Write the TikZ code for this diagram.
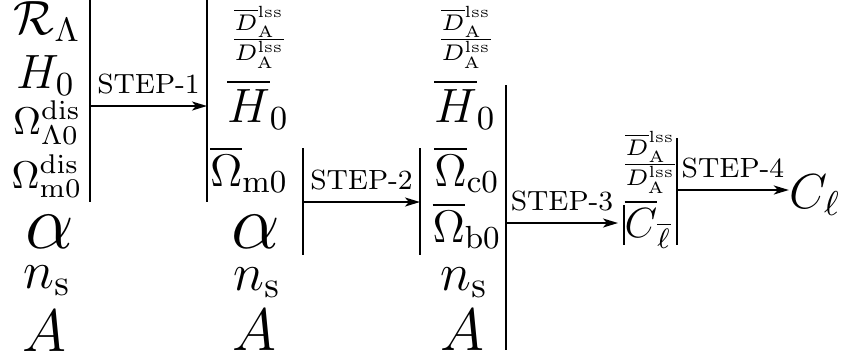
\RequirePackage{fix-cm}
\documentclass[tikz,border=0pt]{standalone}
\usepackage{amsmath}
\usepackage{tikz}
\usetikzlibrary{arrows.meta, positioning}
\newcommand{\fsz}[1]{\fontsize{#1}{#1}\selectfont}
\tikzset{
	param/.style={
		inner sep=0pt,
		anchor=base
	},
	bar/.style={
		line width=0.65pt
	},
	steparrow/.style={
		-{Stealth[length=1.5mm, width=0.9mm, inset=0.4mm]},
		line width=0.6pt
	},
	steplabel/.style={
		above,
		inner sep=3pt,
		font=\fsz{7.9}
	}
}

\begin{document}
\begin{tikzpicture}[x=0.01cm, y=-0.01cm]
		\useasboundingbox (0,0) rectangle (846,360);
		
		%--- Colonne 1 : parametres d'entree ---
		\node[param, font=\fsz{13.7}] (RL) at (47,34) {$\mathcal{R}_\Lambda$};
		\node[param, font=\fsz{13.7}] (H0) at (46,88) {$H_0$};
		\node[param, font=\fsz{11}] (OLdis) at (47,134) {$\Omega^{\mathrm{dis}}_{\Lambda 0}$};
		\node[param, font=\fsz{11}] (Omdis) at (47,188) {$\Omega^{\mathrm{dis}}_{\mathrm{m0}}$};
		\node[param, font=\fsz{22}] (al1) at (50,248) {$\alpha$};
		\node[param, font=\fsz{15}] (ns1) at (47,288) {$n_{\mathrm{s}}$};
		\node[param, font=\fsz{17}] (A1) at (44,351) {$A$};
		
		%--- Colonne 2 ---
		\node[param, anchor=center, font=\fsz{9.2}] (DA2) at (259,37) {$\frac{\overline{D}^{\mathrm{lss}}_{\mathrm{A}}}{D^{\mathrm{lss}}_{\mathrm{A}}}$};
		\node[param, font=\fsz{13.7}] (Hb2) at (258,122) {$\overline{H}_0$};
		\node[param, font=\fsz{13}] (Omb2) at (249,186) {$\overline{\Omega}_{\mathrm{m0}}$};
		\node[param, font=\fsz{22}] (al2) at (256,248) {$\alpha$};
		\node[param, font=\fsz{15}] (ns2) at (257,290) {$n_{\mathrm{s}}$};
		\node[param, font=\fsz{17}] (A2) at (254,350) {$A$};
		
		%--- Colonne 3 ---
		\node[param, anchor=center, font=\fsz{9.2}] (DA3) at (466,37) {$\frac{\overline{D}^{\mathrm{lss}}_{\mathrm{A}}}{D^{\mathrm{lss}}_{\mathrm{A}}}$};
		\node[param, font=\fsz{13.7}] (Hb3) at (465,122) {$\overline{H}_0$};
		\node[param, font=\fsz{13}] (Ocb3) at (467,186) {$\overline{\Omega}_{\mathrm{c0}}$};
		\node[param, font=\fsz{13}] (Obb3) at (467,242) {$\overline{\Omega}_{\mathrm{b0}}$};
		\node[param, font=\fsz{15}] (ns3) at (464,290) {$n_{\mathrm{s}}$};
		\node[param, font=\fsz{17}] (A3) at (462,350) {$A$};
		
		%--- Colonne 4 et sortie ---
		\node[param, anchor=center, font=\fsz{9.2}] (DA4) at (650,162) {$\frac{\overline{D}^{\mathrm{lss}}_{\mathrm{A}}}{D^{\mathrm{lss}}_{\mathrm{A}}}$};
		\node[param, font=\fsz{12}] (Clb) at (648,237) {$\overline{C}_{\overline{\ell}}$};
		\node[param, font=\fsz{14}] (Cl) at (815,208) {$C_\ell$};
		
		%--- Barres verticales (coordonnees) ---
		\coordinate (B1t) at (90,0);   \coordinate (B1b) at (90,202);
		\coordinate (B2t) at (207,0);  \coordinate (B2b) at (207,202);
		\coordinate (B3t) at (303,148); \coordinate (B3b) at (303,255);
		\coordinate (B4t) at (420,148); \coordinate (B4b) at (420,255);
		\coordinate (B5t) at (506,85);  \coordinate (B5b) at (506,350);
		\coordinate (B6t) at (624,205); \coordinate (B6b) at (624,245);
		\coordinate (B7t) at (677,138); \coordinate (B7b) at (677,245);
		
		\draw[bar] (B1t) -- (B1b);
		\draw[bar] (B2t) -- (B2b);
		\draw[bar] (B3t) -- (B3b);
		\draw[bar] (B4t) -- (B4b);
		\draw[bar] (B5t) -- (B5b);
		\draw[bar] (B6t) -- (B6b);
		\draw[bar] (B7t) -- (B7b);
		
		%--- Etapes ---
		\coordinate (S1a) at (90,106);  \coordinate (S1b) at (207,106);
		\coordinate (S2a) at (303,202); \coordinate (S2b) at (420,202);
		\coordinate (S3a) at (506,223); \coordinate (S3b) at (618,223);
		\coordinate (S4a) at (677,190);
		
		\draw[steparrow] (S1a) -- node[steplabel]{STEP-1} (S1b);
		\draw[steparrow] (S2a) -- node[steplabel]{STEP-2} (S2b);
		\draw[steparrow] (S3a) -- node[steplabel]{STEP-3} (S3b);
		\draw[steparrow] (S4a) -- node[steplabel]{STEP-4} (S4a -| Cl.west);
	\end{tikzpicture}
\end{document}
